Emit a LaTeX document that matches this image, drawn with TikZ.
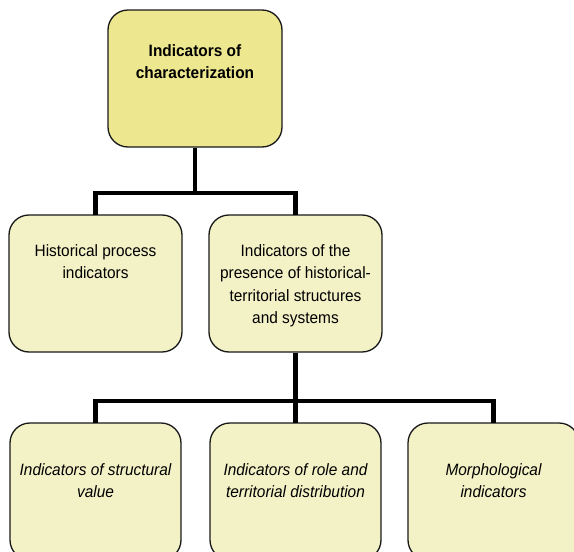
\documentclass[tikz,border=0pt]{standalone}
\usepackage{fontspec}
\setmainfont{Liberation Sans}[FakeStretch=0.94]
\begin{document}
\begin{tikzpicture}[x=1pt,y=-1pt,
  box/.style={draw=black!90, line width=1.3pt, rounded corners=20pt,
    fill=paleyellow, minimum width=173pt, minimum height=137pt, inner sep=0pt},
  headbox/.style={box, fill=headyellow, minimum width=174pt},
  lbl/.style={anchor=north, inner sep=0pt, align=center,
    font=\fontsize{16.4}{22.3}\selectfont},
  conn/.style={line width=4.5pt, line join=miter, black}]
\definecolor{headyellow}{HTML}{EDE78F}
\definecolor{paleyellow}{HTML}{F3F1C6}
\useasboundingbox (0,0) rectangle (574,552);
\clip (0,0) rectangle (574,552);
\fill[white] (0,0) rectangle (574,552);

% junction points of the tree
\coordinate (j1) at (195,193);
\coordinate (j2) at (295.5,401);

% boxes
\node[headbox] (top)  at (195,78.5) {};
\node[box] (mid1) at (95.5,283.5) {};
\node[box] (mid2) at (295.5,283.5) {};
\node[box, minimum width=171pt] (bot1) at (95.5,491.5) {};
\node[box, minimum width=171pt] (bot2) at (295.5,491.5) {};
\node[box, minimum width=171pt] (bot3) at (493.5,491.5) {};

% connectors
\draw[conn] (top.south) -- (j1);
\draw[conn] ([yshift=-0.7pt]mid1.north) |- (j1) -| ([yshift=-0.7pt]mid2.north);
\draw[conn] (mid2.south) -- (j2);
\draw[conn] ([yshift=-0.7pt]bot1.north) |- (j2) -| ([yshift=-0.7pt]bot3.north);
\draw[conn] (j2) -- ([yshift=-0.7pt]bot2.north);

% texts
\node[lbl, font=\fontsize{16.4}{22.3}\selectfont\bfseries] (ttop) at ([yshift=-35pt]top.north)
  {Indicators of\\characterization};
\node[lbl] (tmid1) at ([yshift=-30pt]mid1.north) {Historical process\\indicators};
\node[lbl] (tmid2) at ([yshift=-30pt]mid2.north)
  {Indicators of the\\presence of historical-\\territorial structures\\and systems};
\node[lbl, font=\fontsize{16.4}{22.3}\selectfont\itshape] (tbot1) at ([yshift=-41pt]bot1.north)
  {Indicators of structural\\value};
\node[lbl, font=\fontsize{16.4}{22.3}\selectfont\itshape] (tbot2) at ([yshift=-41pt]bot2.north)
  {Indicators of role and\\territorial distribution};
\node[lbl, font=\fontsize{16.4}{22.3}\selectfont\itshape] (tbot3) at ([yshift=-41pt]bot3.north)
  {Morphological\\indicators};
\end{tikzpicture}
\end{document}
